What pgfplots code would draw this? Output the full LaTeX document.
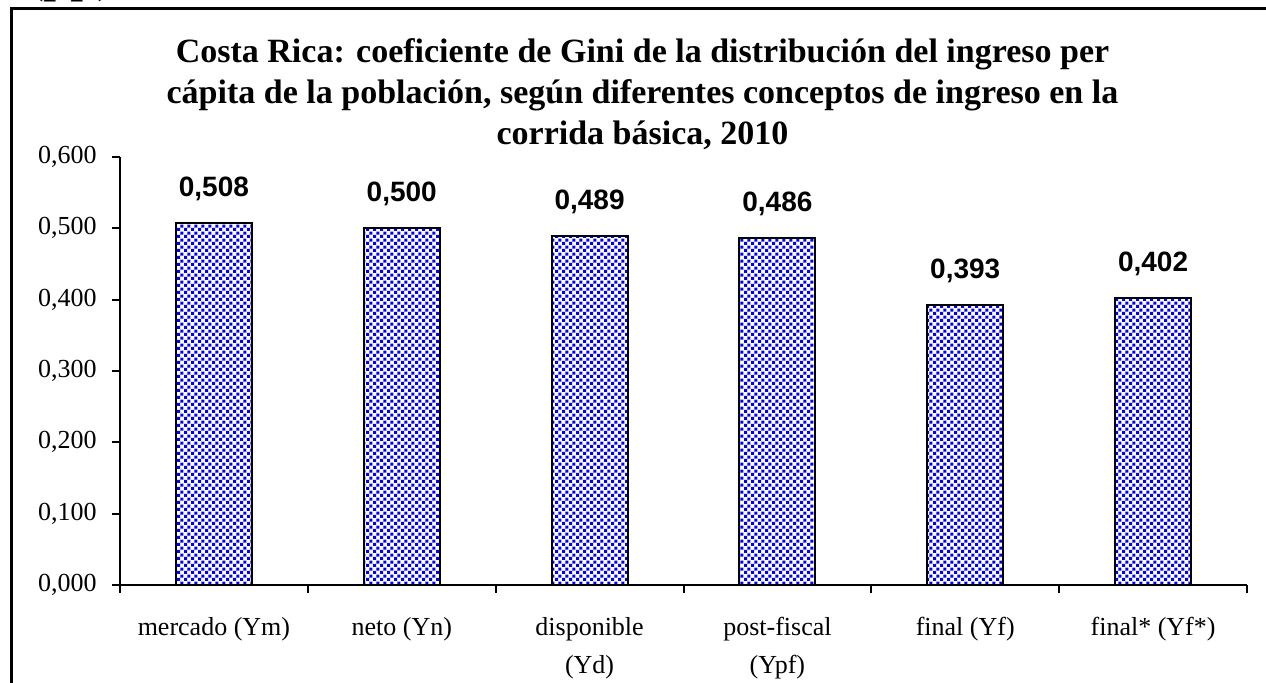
\documentclass[border=0pt]{standalone}
\usepackage{fontspec}
\setmainfont{Liberation Serif}
\newfontfamily\arial{Liberation Sans}
\usepackage{pgfplots}
\pgfplotsset{compat=1.18}
\usetikzlibrary{patterns}
\pgfdeclarepatternformonly{confetti}{\pgfpointorigin}{\pgfpoint{3.4pt}{3.4pt}}{\pgfpoint{3.4pt}{3.4pt}}{%
  \pgfpathrectangle{\pgfpoint{0pt}{0pt}}{\pgfpoint{1.6pt}{1.6pt}}%
  \pgfpathrectangle{\pgfpoint{1.7pt}{1.7pt}}{\pgfpoint{1.6pt}{1.6pt}}%
  \pgfusepath{fill}}
\begin{document}
\begin{tikzpicture}
\path[use as bounding box] (0,0) rectangle (633pt,341.5pt);
\draw[line width=1.5pt] (5.5pt,-20pt) -- (5.5pt,337pt) -- (660pt,337pt);
\node[anchor=base, inner sep=0pt, font=\fontsize{27}{30}\selectfont] at (35.5pt,346pt) {(pp)};
\node[anchor=base, inner sep=0pt, font=\fontsize{17}{20}\selectfont\bfseries] at (321.25pt,310pt) {Costa Rica: coeficiente de Gini de la distribución del ingreso per};
\node[anchor=base, inner sep=0pt, font=\fontsize{17}{20}\selectfont\bfseries] at (321.25pt,289.5pt) {cápita de la población, según diferentes conceptos de ingreso en la};
\node[anchor=base, inner sep=0pt, font=\fontsize{17}{20}\selectfont\bfseries] at (321.25pt,269pt) {corrida básica, 2010};
\begin{axis}[
  at={(60pt,49pt)}, anchor=south west,
  scale only axis, width=563.5pt, height=214pt,
  xmin=0.5, xmax=6.5, ymin=0, ymax=0.6,
  axis x line=bottom, axis y line=left,
  axis line style={-, line width=1pt, black},
  every outer x axis line/.append style={-},
  every outer y axis line/.append style={-},
  tick align=outside,
  major tick length=0pt, minor tick length=4pt,
  tick style={line width=1pt, black},
  xtick={1,2,3,4,5,6},
  xticklabels={mercado (Ym), neto (Yn), {disponible\\(Yd)}, {post-fiscal\\(Ypf)}, final (Yf), final* (Yf*)},
  minor xtick={0.5,1.5,2.5,3.5,4.5,5.5,6.5},
  ytick={0,0.1,0.2,0.3,0.4,0.5,0.6},
  minor ytick={0,0.1,0.2,0.3,0.4,0.5,0.6},
  scaled y ticks=false,
  xticklabel style={align=center, font=\fontsize{13}{19}\selectfont, anchor=north, inner sep=0pt, yshift=-16pt},
  yticklabel style={font=\fontsize{13}{15}\selectfont, anchor=east, inner sep=0pt, xshift=-11.5pt,
    /pgf/number format/.cd, fixed, fixed zerofill, precision=3, use comma, assume math mode=true},
  ybar, bar width=38pt,
  nodes near coords={\pgfmathprintnumber[fixed,fixed zerofill,precision=3,use comma,assume math mode=true]{\pgfplotspointmeta}},
  nodes near coords style={font=\arial\bfseries\fontsize{14}{16}\selectfont, anchor=south, inner sep=0pt, yshift=10.5pt, black},
  clip=false,
]
\addplot[draw=black, line width=1pt, pattern=confetti, pattern color=blue] coordinates {(1,0.508) (2,0.500) (3,0.489) (4,0.486) (5,0.393) (6,0.402)};
\end{axis}
\end{tikzpicture}
\end{document}
